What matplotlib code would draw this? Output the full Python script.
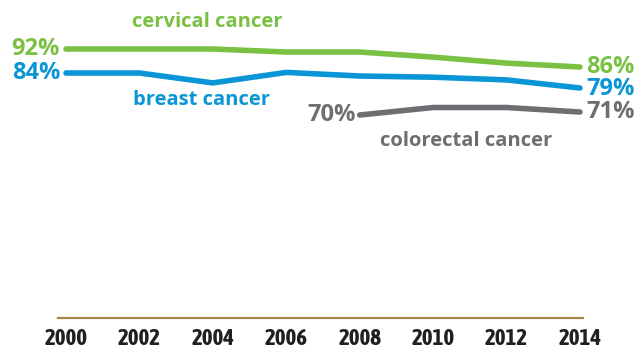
import matplotlib
matplotlib.use("Agg")
import matplotlib.pyplot as plt

# Screening rates (%) by survey year
years = [2000, 2002, 2004, 2006, 2008, 2010, 2012, 2014]
cervical = [92, 92, 92, 91, 91, 89.3, 87.3, 86]
breast = [84, 84, 80.7, 84.2, 83, 82.6, 81.7, 79]
colorectal_years = [2008, 2010, 2012, 2014]
colorectal = [70, 72.5, 72.5, 71]

tick_labels = ["2000", "2002", "2004", "2006", "2008", "2010", "2012", "2014"]

GREEN = "#7ac143"
BLUE = "#0a95d6"
GRAY = "#6d6e71"
AXIS = "#a8844a"
DARK = "#231f20"

plt.rcParams["font.family"] = ["Open Sans", "DejaVu Sans"]

fig = plt.figure(figsize=(6.39, 3.53), dpi=100)
W, H = 639, 353
ax = fig.add_axes([58 / W, (H - 318) / H, (583 - 58) / W, (318 - 20) / H])

lw = 4.0
ax.plot(years, cervical, color=GREEN, lw=lw, solid_capstyle="round", solid_joinstyle="round")
ax.plot(years, breast, color=BLUE, lw=lw, solid_capstyle="round", solid_joinstyle="round")
ax.plot(colorectal_years, colorectal, color=GRAY, lw=lw, solid_capstyle="round", solid_joinstyle="round")

ax.set_xlim(1999.782, 2014.082)
ax.set_ylim(2.33, 101.67)

for s in ["top", "left", "right"]:
    ax.spines[s].set_visible(False)
ax.spines["bottom"].set_color(AXIS)
ax.spines["bottom"].set_linewidth(1.6)
ax.set_yticks([])
ax.set_xticks(years)
ax.set_xticklabels(tick_labels, fontsize=16.5, fontweight="bold", color=DARK,
                   family=["Asap Condensed", "DejaVu Sans"])
ax.tick_params(axis="x", length=0, pad=7)

# End-point value labels
val_kw = dict(fontsize=17, fontweight="bold", va="center", textcoords="offset pixels",
              annotation_clip=False)
ax.annotate(f"{cervical[0]:.0f}%", (years[0], cervical[0]), xytext=(-6, 0), ha="right", color=GREEN, **val_kw)
ax.annotate(f"{breast[0]:.0f}%", (years[0], breast[0]), xytext=(-6, 0), ha="right", color=BLUE, **val_kw)
ax.annotate(f"{cervical[-1]:.0f}%", (years[-1], cervical[-1]), xytext=(6, 0), ha="left", color=GREEN, **val_kw)
ax.annotate(f"{breast[-1]:.0f}%", (years[-1], breast[-1]), xytext=(6, -1), ha="left", color=BLUE, **val_kw)
ax.annotate(f"{colorectal[0]:.0f}%", (colorectal_years[0], colorectal[0]), xytext=(-4, 0), ha="right", color=GRAY, **val_kw)
ax.annotate(f"{colorectal[-1]:.0f}%", (colorectal_years[-1], colorectal[-1]), xytext=(6, 0), ha="left", color=GRAY, **val_kw)

# Series names
name_kw = dict(fontsize=14.5, fontweight="bold", ha="center", va="center")
ax.text(2003.85, 101.0, "cervical cancer", color=GREEN, **name_kw)
ax.text(2003.7, 75.0, "breast cancer", color=BLUE, **name_kw)
ax.text(2010.9, 61.5, "colorectal cancer", color=GRAY, **name_kw)

fig.savefig("out.png", dpi=100, facecolor="white")
